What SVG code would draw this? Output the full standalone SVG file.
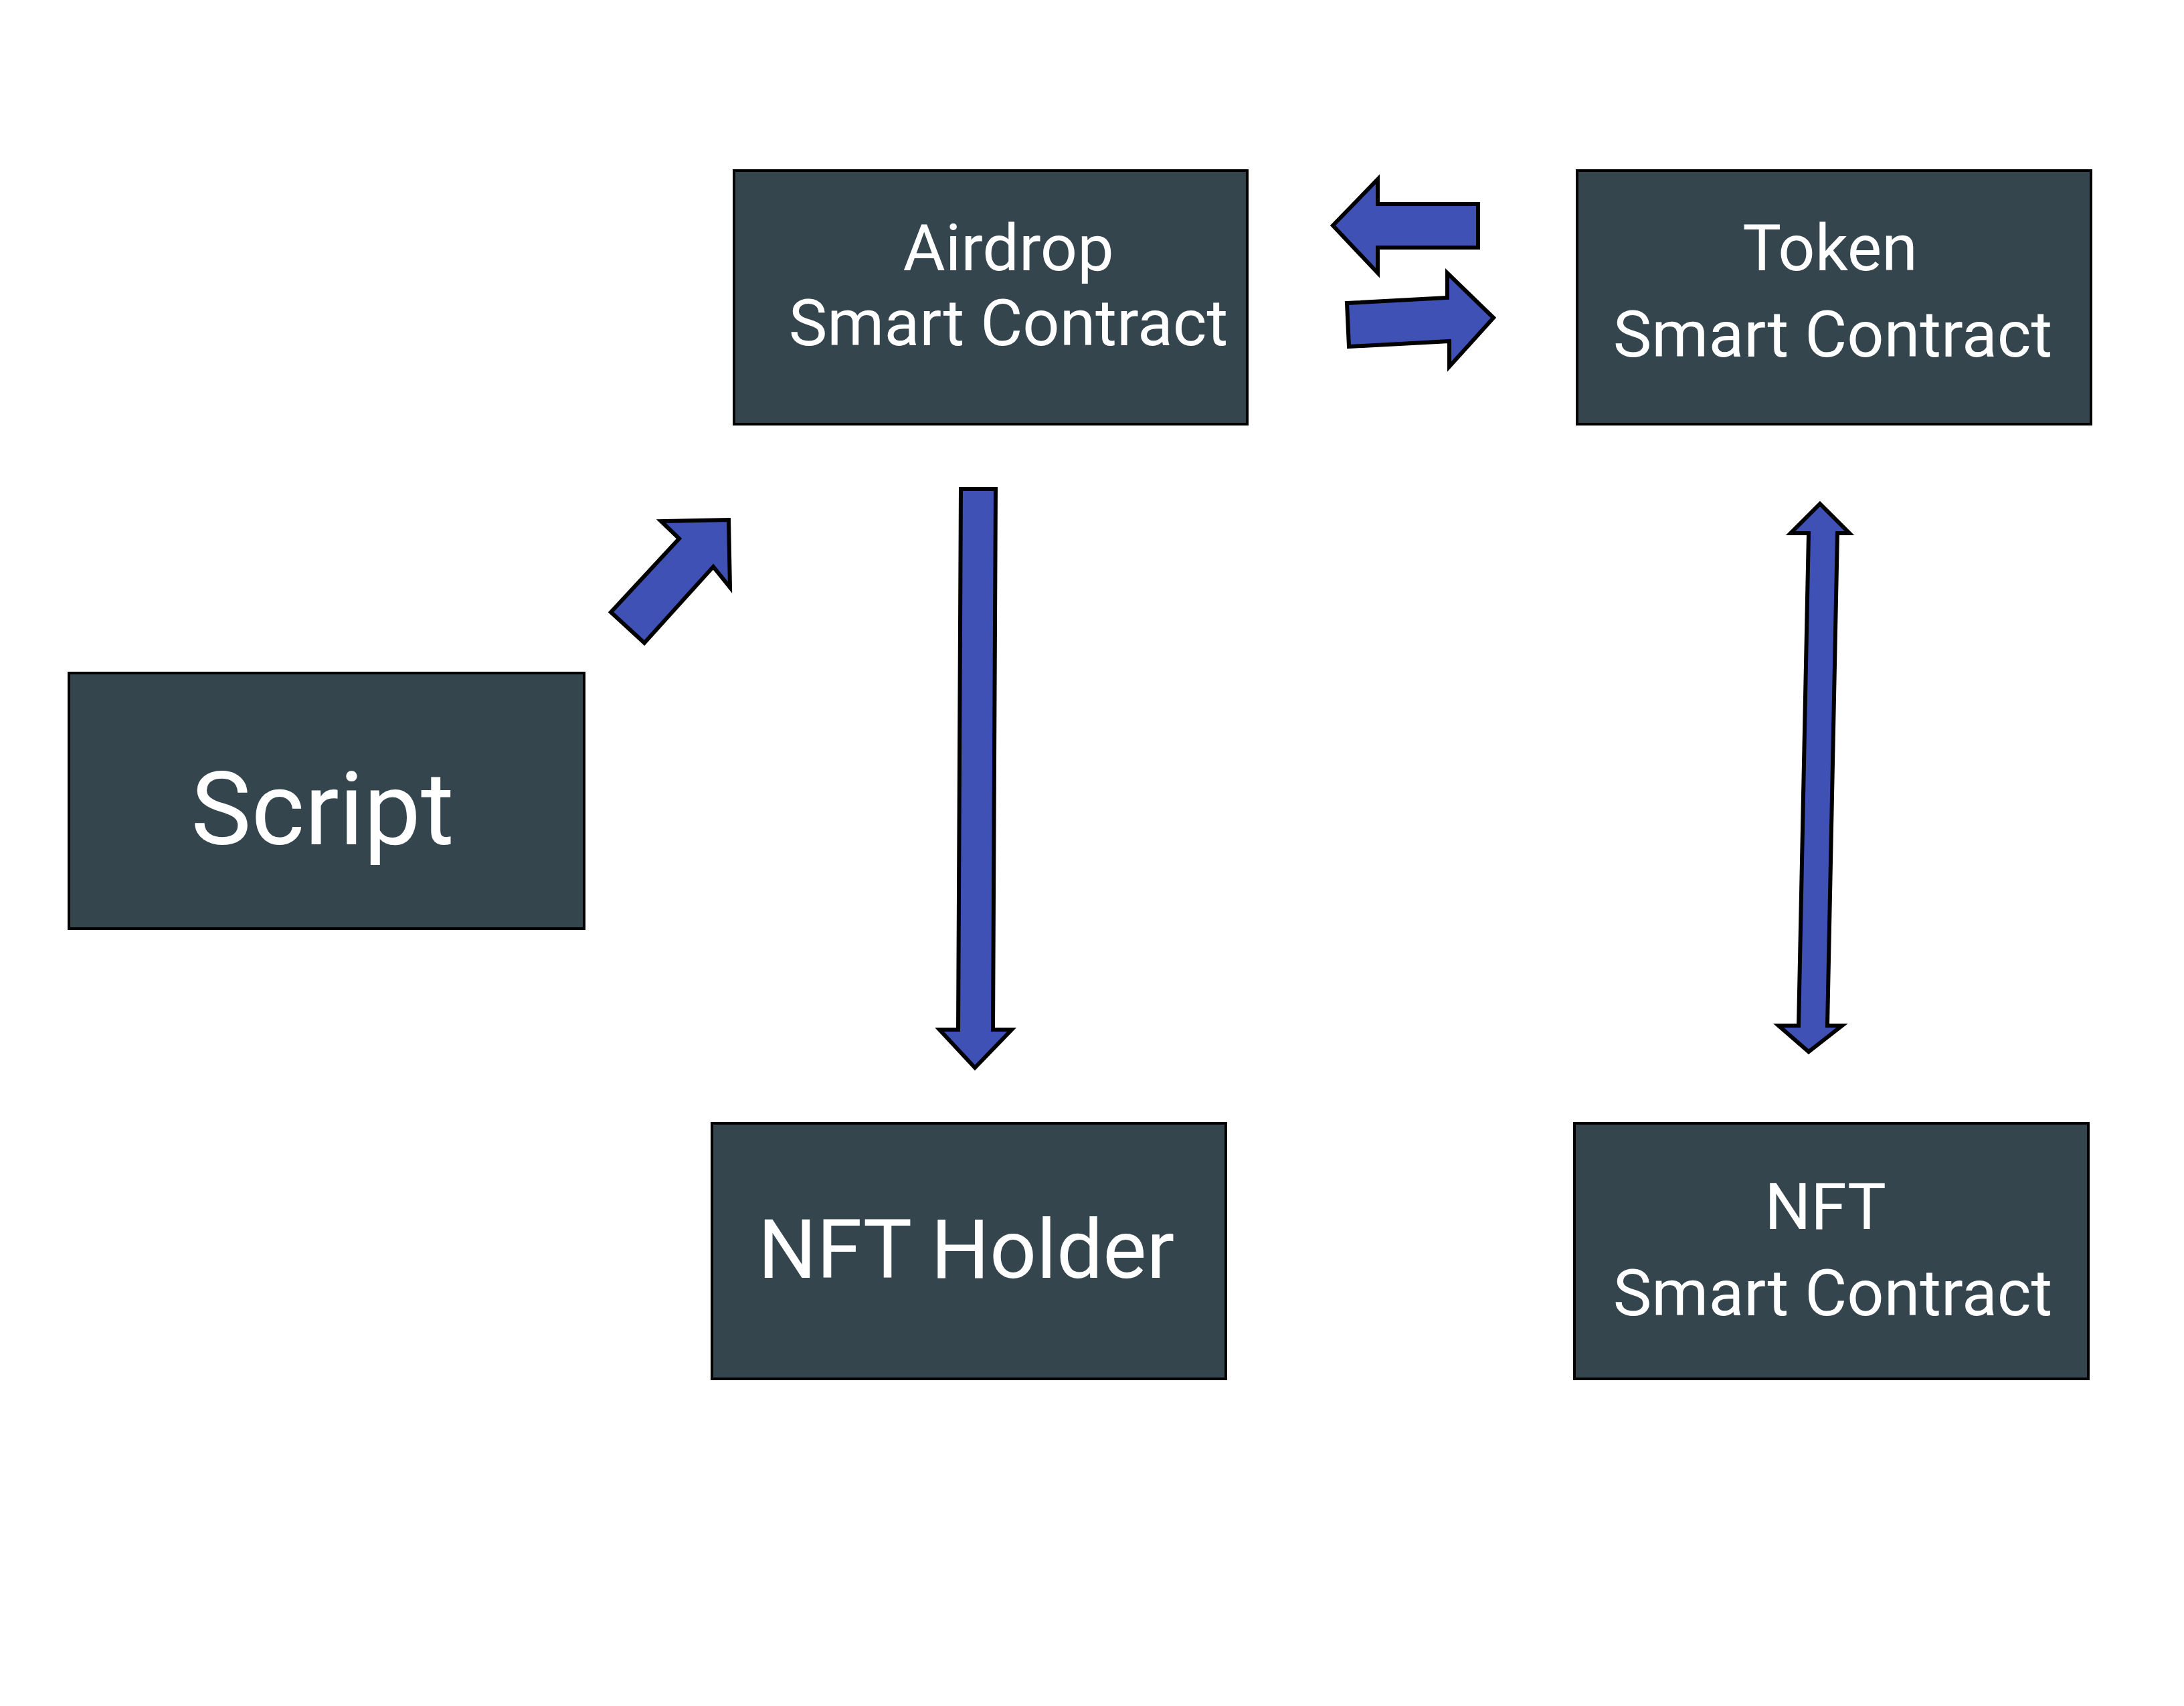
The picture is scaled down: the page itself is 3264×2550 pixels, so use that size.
<svg xmlns="http://www.w3.org/2000/svg" width="3264" height="2550" viewBox="0 0 3264 2550">
  <style>
    .box { fill: #35454d; stroke: #000000; stroke-width: 4; }
    .lbl { fill: #ffffff; font-family: Roboto, "Liberation Sans", sans-serif; text-anchor: middle; }
    .arrow { fill: #3f51b5; stroke: #000000; stroke-width: 6; stroke-linejoin: miter; }
  </style>
  <rect x="0" y="0" width="3264" height="2550" fill="#ffffff"/>

  <g id="node-airdrop">
    <rect class="box" x="1097" y="255" width="767" height="379"/>
    <text class="lbl" x="1507" y="404" font-size="97">Airdrop</text>
    <text class="lbl" x="1507" y="516" font-size="97">Smart Contract</text>
  </g>

  <g id="node-token">
    <rect class="box" x="2357" y="255" width="768" height="379"/>
    <text class="lbl" x="2735" y="404" font-size="97">Token</text>
    <text class="lbl" x="2739" y="533" font-size="97">Smart Contract</text>
  </g>

  <g id="node-script">
    <rect class="box" x="103" y="1006" width="770" height="382"/>
    <text class="lbl" x="482" y="1262" font-size="152">Script</text>
  </g>

  <g id="node-nft-holder">
    <rect class="box" x="1064" y="1679" width="768" height="382"/>
    <text class="lbl" x="1444" y="1910" font-size="123">NFT Holder</text>
  </g>

  <g id="node-nft-contract">
    <rect class="box" x="2353" y="1679" width="768" height="382"/>
    <text class="lbl" x="2728" y="1837" font-size="97">NFT</text>
    <text class="lbl" x="2739" y="1966" font-size="97">Smart Contract</text>
  </g>

  <g id="connectors">
    <!-- Script -> Airdrop (diagonal) -->
    <polygon class="arrow" points="913,915 963,961 1066,847 1091,878 1089,777 988,779 1015,805"/>
    <!-- Token -> Airdrop (left) -->
    <polygon class="arrow" points="1992,337 2059,268 2059,305 2209,305 2209,370 2059,370 2059,408"/>
    <!-- Airdrop -> Token (right) -->
    <polygon class="arrow" points="2013,453 2163,445 2163,408 2232,475 2166,548 2166,510 2016,518"/>
    <!-- Airdrop -> NFT Holder (down) -->
    <polygon class="arrow" points="1436,731 1488,731 1484,1539 1512,1539 1457,1596 1404,1539 1432,1539"/>
    <!-- Token <-> NFT Smart Contract (double) -->
    <polygon class="arrow" points="2720,753 2764,797 2746,797 2731,1533 2753,1533 2703,1572 2658,1533 2688,1533 2703,797 2676,797"/>
  </g>
</svg>
